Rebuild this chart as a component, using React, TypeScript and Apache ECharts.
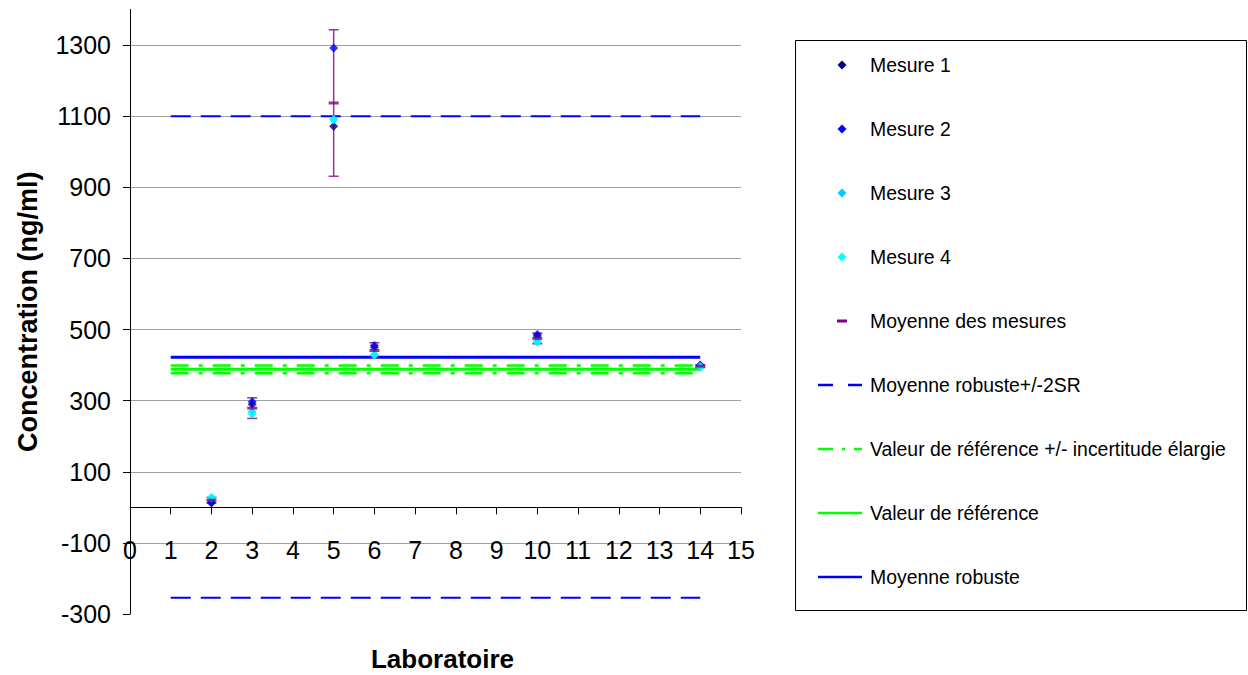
import React, { useEffect, useRef } from "react";
import * as echarts from "echarts";

// ---- data ----
const labs = [2, 3, 5, 6, 10, 14];
const mesure1 = [12, 290, 1072, 450, 482, 398];
const mesure2 = [14, 297, 1292, 455, 486, 400];
const mesure3 = [26, 268, 1091, 430, 466, 394];
const mesure4 = [28, 262, 1090, 428, 464, 396];
const moyennes = [20, 279, 1137, 441, 475, 397];
const ecarts = [8, 29, 206, 22, 15, 4];

const lineSpan = [1, 14];
const moyenneRobuste = 422;
const moyenneRobusteHaut = 1100;
const moyenneRobusteBas = -254;
const valeurReference = 388;
const referenceHaut = 399;
const referenceBas = 377;

const yMin = -300;
const yMax = 1400;
const yInterval = 200;
const xMin = 0;
const xMax = 15;

const legendNames = [
  "Mesure 1",
  "Mesure 2",
  "Mesure 3",
  "Mesure 4",
  "Moyenne des mesures",
  "Moyenne robuste+/-2SR",
  "Valeur de référence +/- incertitude élargie",
  "Valeur de référence",
  "Moyenne robuste",
];

const FONT = "'Liberation Sans', Arial, sans-serif";

const GRID_TOP = 9.5;
const GRID_BOTTOM = 61;
const CHART_H = 675;

const pts = (vals: number[]) => labs.map((l, i) => [l, vals[i]]);
const hline = (v: number) => lineSpan.map((x) => [x, v]);

function legendGraphics() {
  const items: any[] = [];
  const x0 = 818;
  const x1 = 862;
  const cx = 842;
  const diamond = (cy: number, color: string) => ({
    type: "polygon",
    shape: { points: [[cx, cy - 4.5], [cx + 4.5, cy], [cx, cy + 4.5], [cx - 4.5, cy]] },
    style: { fill: color },
  });
  const line = (cy: number, color: string, width: number, dash: any) => ({
    type: "line",
    shape: { x1: x0, y1: cy, x2: x1, y2: cy },
    style: { stroke: color, lineWidth: width, lineDash: dash },
  });
  legendNames.forEach((name, i) => {
    const cy = 65 + 64 * i;
    let icon: any;
    if (i === 0) icon = diamond(cy, "#000080");
    else if (i === 1) icon = diamond(cy, "#0000FF");
    else if (i === 2) icon = diamond(cy, "#00CCFF");
    else if (i === 3) icon = diamond(cy, "#00FFFF");
    else if (i === 4)
      icon = { type: "rect", shape: { x: cx - 5, y: cy - 1.5, width: 10, height: 3 }, style: { fill: "#800080" } };
    else if (i === 5) icon = line(cy, "#0000FF", 2.5, [15, 15]);
    else if (i === 6) icon = line(cy, "#00FF00", 2.5, [15, 9, 3, 9]);
    else if (i === 7) icon = line(cy, "#00FF00", 2.5, null);
    else icon = line(cy, "#0000FF", 2.5, null);
    items.push(icon);
    items.push({
      type: "text",
      x: 870,
      y: cy,
      style: { text: name, fontSize: 19.4, fill: "#000", fontFamily: FONT, verticalAlign: "middle", align: "left" },
    });
  });
  return items;
}

export default function App() {
  const ref = useRef<HTMLDivElement>(null);
  useEffect(() => {
    if (!ref.current) return;
    const chart = echarts.init(ref.current, undefined, { renderer: "svg" });
    const plotH = CHART_H - GRID_TOP - GRID_BOTTOM;
    // distance from grid bottom up to the y = 0 line
    const zeroOffset = (plotH * (0 - yMin)) / (yMax - yMin);
    const lineBase = (name: string, v: number, color: string, width: number, dash: any, z: number) => ({
      name,
      type: "line",
      data: hline(v),
      symbol: "none",
      lineStyle: { color, width, type: dash },
      itemStyle: { color },
      z,
      silent: true,
    });
    const scatter = (name: string, vals: number[], color: string) => ({
      name,
      type: "scatter",
      data: pts(vals),
      symbol: "diamond",
      symbolSize: 9,
      itemStyle: { color },
      z: 5,
    });
    const option: any = {
      animation: false,
      backgroundColor: "#ffffff",
      textStyle: { fontFamily: FONT },
      grid: { left: 130, right: 507, top: GRID_TOP, bottom: GRID_BOTTOM, containLabel: false, outerBoundsMode: "none" },
      xAxis: {
        type: "value",
        min: xMin,
        max: xMax,
        interval: 1,
        offset: -zeroOffset,
        name: "Laboratoire",
        nameLocation: "middle",
        nameGap: 139,
        nameTextStyle: {
          fontSize: 26,
          fontWeight: "bold",
          color: "#000",
          fontFamily: FONT,
          padding: [0, 0, 0, 14],
        },
        axisLine: { onZero: false, lineStyle: { color: "#000", width: 1 } },
        axisTick: { show: true, inside: false, length: 7, lineStyle: { color: "#000" } },
        axisLabel: { fontSize: 25, color: "#000", margin: 30, fontFamily: FONT },
        splitLine: { show: false },
      },
      yAxis: {
        type: "value",
        min: yMin,
        max: yMax,
        interval: yInterval,
        name: "Concentration (ng/ml)",
        nameLocation: "middle",
        nameRotate: 90,
        nameGap: 89,
        nameTextStyle: { fontSize: 27, fontWeight: "bold", color: "#000", fontFamily: FONT },
        axisLine: { show: true, onZero: false, lineStyle: { color: "#000", width: 1 } },
        axisTick: { show: true, inside: false, length: 7, lineStyle: { color: "#000" } },
        axisLabel: {
          fontSize: 25,
          color: "#000",
          margin: 19,
          showMaxLabel: false,
          fontFamily: FONT,
          formatter: (v: number) => String(v),
        },
        splitLine: { show: true, showMaxLine: false, showMinLine: false, lineStyle: { color: "#A0A0A0", width: 1 } },
      },
      graphic: [
        {
          type: "rect",
          shape: { x: 795.5, y: 40.5, width: 451, height: 570 },
          style: { fill: "none", stroke: "#000", lineWidth: 1 },
          z: -1,
        },
        ...legendGraphics(),
      ],
      series: [
        lineBase("Moyenne robuste+/-2SR", moyenneRobusteHaut, "#0000FF", 2, [20, 10], 2),
        lineBase("Moyenne robuste+/-2SR", moyenneRobusteBas, "#0000FF", 2, [20, 10], 2),
        lineBase("Valeur de référence +/- incertitude élargie", referenceHaut, "#00FF00", 2.5, [18, 10, 4, 10], 2),
        lineBase("Valeur de référence +/- incertitude élargie", referenceBas, "#00FF00", 2.5, [18, 10, 4, 10], 2),
        lineBase("Valeur de référence", valeurReference, "#00FF00", 3, "solid", 2),
        lineBase("Moyenne robuste", moyenneRobuste, "#0000FF", 3, "solid", 2),
        {
          name: "errorbars",
          type: "custom",
          data: labs.map((l, i) => [l, moyennes[i], ecarts[i]]),
          encode: { x: 0, y: 1 },
          z: 4,
          silent: true,
          renderItem: (params: any, api: any) => {
            const x = api.value(0);
            const m = api.value(1);
            const e = api.value(2);
            const top = api.coord([x, m + e]);
            const bot = api.coord([x, m - e]);
            const hw = 5;
            const st = { stroke: "#993399", lineWidth: 1.5 };
            return {
              type: "group",
              children: [
                { type: "line", shape: { x1: top[0], y1: top[1], x2: bot[0], y2: bot[1] }, style: st },
                { type: "line", shape: { x1: top[0] - hw, y1: top[1], x2: top[0] + hw, y2: top[1] }, style: st },
                { type: "line", shape: { x1: bot[0] - hw, y1: bot[1], x2: bot[0] + hw, y2: bot[1] }, style: st },
              ],
            };
          },
        },
        scatter("Mesure 1", mesure1, "#000080"),
        scatter("Mesure 2", mesure2, "#0000FF"),
        scatter("Mesure 3", mesure3, "#00CCFF"),
        scatter("Mesure 4", mesure4, "#00FFFF"),
        {
          name: "Moyenne des mesures",
          type: "scatter",
          data: pts(moyennes),
          symbol: "rect",
          symbolSize: [10, 3],
          itemStyle: { color: "#800080" },
          z: 6,
        },
      ],
    };
    chart.setOption(option);
    return () => chart.dispose();
  }, []);
  return (
    <div
      ref={ref}
      style={{ position: "fixed", left: 0, top: 0, width: 1248, height: 675, background: "#fff" }}
    />
  );
}
